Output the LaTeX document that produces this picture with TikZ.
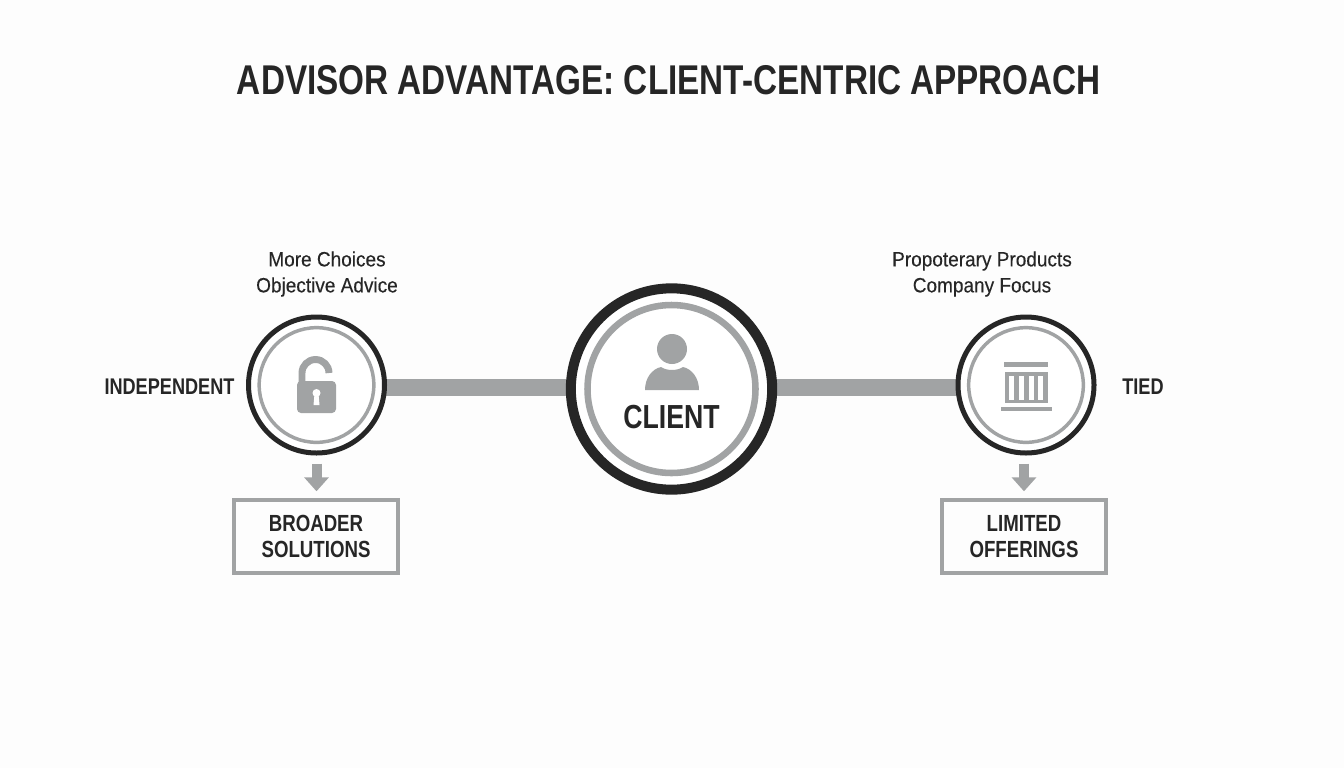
\documentclass[tikz,border=0pt]{standalone}
\usepackage{fontspec}
\usepackage{xcolor}
\usetikzlibrary{arrows.meta,backgrounds}
\setmainfont[FakeStretch=0.8]{Liberation Sans}
\newfontfamily\notefont[FakeStretch=0.92,FakeBold=0.25]{Liberation Sans}
\definecolor{inkdark}{HTML}{262626}
\definecolor{softgray}{HTML}{A1A3A4}
\definecolor{paper}{HTML}{FDFDFD}
\begin{document}
\begin{tikzpicture}[x=0.75pt,y=-0.75pt,
ring/.style={circle,draw=inkdark,fill=white,line width=3.75pt,minimum size=102pt,inner sep=0pt},
bigring/.style={ring,line width=7.5pt,minimum size=151pt},
innerring/.style={circle,draw=softgray,line width=2.6pt,minimum size=86pt,inner sep=0pt},
biginner/.style={innerring,line width=4.9pt,minimum size=126pt},
linkbar/.style={draw=softgray,line width=13pt},
flow/.style={draw=softgray,line width=7.5pt,-{Triangle[width=18pt,length=10.5pt]},shorten <=6pt,shorten >=5pt}]
\tikzstyle{every node}=[text=inkdark,align=center,font=\fontsize{15.5pt}{19.5pt}\notefont]
\tikzstyle{sidelabel}=[font=\fontsize{17pt}{19.5pt}\selectfont\rmfamily\bfseries]
\tikzstyle{result}=[rectangle,draw=softgray,line width=2.8pt,minimum width=123pt,minimum height=55pt,inner sep=0pt,
font=\fontsize{17.5pt}{20pt}\selectfont\rmfamily\bfseries]
\node (Title) at (669,80) {\fontsize{31.2pt}{36pt}\selectfont\rmfamily\bfseries ADVISOR ADVANTAGE: CLIENT-CENTRIC APPROACH};
\node[ring] (Independent) at (316.5,385) {};
\node[innerring] at (Independent) {};
\node[bigring] (Client) at (671.5,389) {};
\node[biginner] at (Client) {};
\node[ring] (Tied) at (1026,385) {};
\node[innerring] at (Tied) {};
\node (ClientText) at (671.5,417) {\fontsize{25pt}{30pt}\selectfont\rmfamily\bfseries CLIENT};
\node[sidelabel] (IndependentText) at (169.5,387) {INDEPENDENT};
\node[sidelabel] (TiedText) at (1143,387) {TIED};
\node (MoreChoices) at (327,274) {More Choices\\Objective Advice};
\node (Propoterary) at (982,274) {Propoterary Products\\Company Focus};
\node[result] (Broader) at (316,536.5) {BROADER\\SOLUTIONS};
\node[result] (Limited) at (1024,536.5) {LIMITED\\OFFERINGS};
\coordinate (Axis) at (0,387.5);
\begin{pgfonlayer}{background}
\fill[paper] (0,0) rectangle (1344,768);
\draw[linkbar] (Independent |- Axis) -- (Client |- Axis);
\draw[linkbar] (Client |- Axis) -- (Tied |- Axis);
\end{pgfonlayer}
\draw[flow] (Independent.south) -- (Independent.south |- Broader.north);
\draw[flow] (Tied.south -| Limited) -- (Limited.north);
\fill[softgray] (672,349) circle (11.25pt);
\fill[softgray] (645,390) .. controls (645,378) and (652,369) .. (661,367) .. controls (667,371) and (677,371) .. (683,367) .. controls (692,369) and (699,378) .. (699,390) -- cycle;
\fill[softgray,rounded corners=3pt] (297,381) rectangle (336,413);
\draw[softgray,line width=5.2pt] (302,382) -- (302,373) arc[start angle=180,end angle=360,x radius=13.5,y radius=13.5];
\fill[white] (316.5,393) circle (3pt);
\fill[white] (314.5,394) -- (318.5,394) -- (319.5,405) -- (313.5,405) -- cycle;
\fill[softgray] (1004.3,361.7) rectangle (1048.3,367.3);
\fill[softgray] (1005.3,371.7) rectangle (1047.7,403.3);
\foreach \x in {1009.3,1019,1028.7,1038.3}
\fill[white] (\x,376) rectangle (\x+5,400);
\fill[softgray] (1001,406.7) rectangle (1051.7,410.7);
\end{tikzpicture}
\end{document}
